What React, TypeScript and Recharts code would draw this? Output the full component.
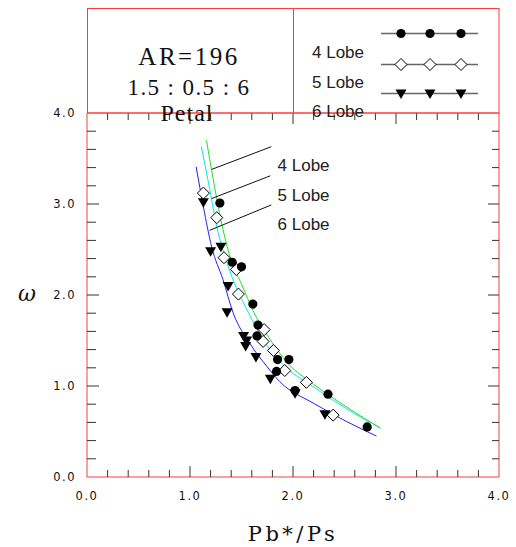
import {
	ComposedChart,
	Line,
	ReferenceDot,
	ReferenceLine,
	Scatter,
	XAxis,
	YAxis,
} from "recharts";

const lobe4X = [1.29, 1.41, 1.5, 1.61, 1.66, 1.65, 1.85, 1.96, 1.84, 2.02, 2.34, 2.72];
const lobe4Y = [3.01, 2.36, 2.31, 1.9, 1.67, 1.55, 1.29, 1.29, 1.16, 0.95, 0.91, 0.55];

const lobe5X = [1.13, 1.26, 1.33, 1.45, 1.47, 1.72, 1.71, 1.81, 1.92, 2.13, 2.39];
const lobe5Y = [3.12, 2.85, 2.41, 2.28, 2.01, 1.62, 1.49, 1.39, 1.17, 1.04, 0.68];

const lobe6X = [1.13, 1.2, 1.3, 1.37, 1.36, 1.52, 1.55, 1.54, 1.64, 1.78, 2.02, 2.31];
const lobe6Y = [3.02, 2.48, 2.53, 2.1, 1.81, 1.55, 1.5, 1.44, 1.32, 1.08, 0.92, 0.69];

// fitted curves
const fit4X = [1.16, 1.21, 1.32, 1.4, 1.5, 1.62, 1.75, 1.95, 2.2, 2.52, 2.85];
const fit4Y = [3.7, 3.37, 2.72, 2.38, 2.12, 1.81, 1.56, 1.25, 1.02, 0.77, 0.535];

const fit5X = [1.11, 1.18, 1.26, 1.36, 1.45, 1.57, 1.71, 1.89, 2.2, 2.52, 2.84];
const fit5Y = [3.63, 3.23, 2.75, 2.35, 2.08, 1.8, 1.51, 1.25, 0.99, 0.75, 0.545];

const fit6X = [1.06, 1.13, 1.21, 1.32, 1.42, 1.58, 1.75, 1.87, 2.2, 2.52, 2.81];
const fit6Y = [3.41, 2.97, 2.53, 2.17, 1.8, 1.47, 1.21, 1.05, 0.81, 0.61, 0.45];

const axisTicks = [
	0, 0.2, 0.4, 0.6, 0.8, 1, 1.2, 1.4, 1.6, 1.8, 2, 2.2, 2.4, 2.6, 2.8, 3, 3.2,
	3.4, 3.6, 3.8, 4,
];

const seriesNames = ["4 Lobe", "5 Lobe", "6 Lobe"];

// leader lines from each curve to its label
const leaderFrom = [
	{ x: 1.21, y: 3.38 },
	{ x: 1.21, y: 3.06 },
	{ x: 1.19, y: 2.71 },
];
const leaderTo = [
	{ x: 1.79, y: 3.63 },
	{ x: 1.78, y: 3.31 },
	{ x: 1.79, y: 2.99 },
];
const leaderLabelAt = [
	{ x: 1.85, y: 3.36 },
	{ x: 1.85, y: 3.03 },
	{ x: 1.85, y: 2.71 },
];

const zip = (xs: number[], ys: number[]) => xs.map((x, i) => ({ x, y: ys[i] }));

const RED = "#ff3c3c";
const TICK = "#333";
const tickFont = { fontFamily: "DejaVu Sans", fontSize: 11.5, letterSpacing: 1.5, fill: "#111" };

const isMajor = (v: number) => Math.abs(v - Math.round(v)) < 1e-6;
const edge = (v: number) => v <= 0 || v >= 4;

const BottomTick = ({ x, y, payload }: any) => {
	const v = payload.value;
	return (
		<g>
			{!edge(v) && <line x1={x} x2={x} y1={y} y2={y - (isMajor(v) ? 11 : 7)} stroke={TICK} />}
			{isMajor(v) && (
				<text x={x} y={y + 23} textAnchor="middle" {...tickFont}>
					{v.toFixed(1)}
				</text>
			)}
		</g>
	);
};

const TopTick = ({ x, y, payload }: any) => {
	const v = payload.value;
	if (edge(v)) return <g />;
	return <line x1={x} x2={x} y1={y} y2={y + (isMajor(v) ? 11 : 7)} stroke={TICK} />;
};

const LeftTick = ({ x, y, payload }: any) => {
	const v = payload.value;
	return (
		<g>
			{!edge(v) && <line x1={x} x2={x + (isMajor(v) ? 12 : 9)} y1={y} y2={y} stroke={TICK} />}
			{isMajor(v) && (
				<text x={x - 11} y={y + 4} textAnchor="end" {...tickFont}>
					{v.toFixed(1)}
				</text>
			)}
		</g>
	);
};

const RightTick = ({ x, y, payload }: any) => {
	const v = payload.value;
	if (edge(v)) return <g />;
	return <line x1={x} x2={x - (isMajor(v) ? 11 : 7)} y1={y} y2={y} stroke={TICK} />;
};

const Dot4 = ({ cx, cy }: any) => <circle cx={cx} cy={cy} r={4.6} fill="#000" />;
const Dot5 = ({ cx, cy }: any) => (
	<path
		d={`M${cx},${cy - 6}L${cx + 6},${cy}L${cx},${cy + 6}L${cx - 6},${cy}Z`}
		fill="#fff"
		stroke="#000"
		strokeWidth={1}
	/>
);
const Dot6 = ({ cx, cy }: any) => (
	<path d={`M${cx - 5.5},${cy - 4}L${cx + 5.5},${cy - 4}L${cx},${cy + 5.5}Z`} fill="#000" />
);

const LegendMark = ({ kind, cx, cy }: { kind: number; cx: number; cy: number }) => {
	if (kind === 0) return <Dot4 cx={cx} cy={cy} />;
	if (kind === 1) return <Dot5 cx={cx} cy={cy} />;
	return <Dot6 cx={cx} cy={cy} />;
};

export default function App() {
	const legendY = [33.5, 64.5, 93.5];
	const legendTextY = [58, 88, 117];
	return (
		<div style={{ position: "absolute", left: 0, top: 0, width: 516, height: 547 }}>
			<ComposedChart
				width={516}
				height={547}
				margin={{ top: 103, right: 7, bottom: 40, left: 27 }}
			>
				<XAxis
					type="number"
					dataKey="x"
					domain={[0, 4]}
					ticks={axisTicks}
					interval={0}
					tickSize={0}
					tickMargin={0}
					tick={<BottomTick />}
					axisLine={{ stroke: RED }}
					height={30}
					allowDataOverflow
					label={({ viewBox }: any) => (
						<text
							x={viewBox.x + viewBox.width / 2}
							y={viewBox.y + 64}
							textAnchor="middle"
							fontFamily="DejaVu Serif"
							fontSize={21}
							letterSpacing={3.5}
							fill="#111"
						>
							Pb*/Ps
						</text>
					)}
				/>
				<XAxis
					xAxisId="top"
					orientation="top"
					type="number"
					dataKey="x"
					domain={[0, 4]}
					ticks={axisTicks}
					interval={0}
					tickSize={0}
					tickMargin={0}
					tick={<TopTick />}
					axisLine={{ stroke: RED }}
					height={10}
					allowDataOverflow
				/>
				<YAxis
					type="number"
					dataKey="y"
					domain={[0, 4]}
					ticks={axisTicks}
					interval={0}
					tickSize={0}
					tickMargin={0}
					tick={<LeftTick />}
					axisLine={{ stroke: RED }}
					width={60}
					allowDataOverflow
					label={({ viewBox }: any) => (
						<text
							x={viewBox.x}
							y={viewBox.y + viewBox.height / 2 + 6}
							textAnchor="middle"
							fontFamily="DejaVu Serif"
							fontStyle="italic"
							fontSize={22}
							fill="#111"
						>
							ω
						</text>
					)}
				/>
				<YAxis
					yAxisId="right"
					orientation="right"
					type="number"
					dataKey="y"
					domain={[0, 4]}
					ticks={axisTicks}
					interval={0}
					tickSize={0}
					tickMargin={0}
					tick={<RightTick />}
					axisLine={{ stroke: RED }}
					width={10}
					allowDataOverflow
				/>
				<Line
					data={zip(fit6X, fit6Y)}
					dataKey="y"
					type="monotone"
					stroke="#1f1fff"
					strokeWidth={1}
					dot={false}
					activeDot={false}
					isAnimationActive={false}
				/>
				<Line
					data={zip(fit5X, fit5Y)}
					dataKey="y"
					type="monotone"
					stroke="#00e8f0"
					strokeWidth={1}
					dot={false}
					activeDot={false}
					isAnimationActive={false}
				/>
				{/* same [0,4] domain on the top/right axes, so this lands exactly where it would on bottom/left */}
				<Line
					xAxisId="top"
					yAxisId="right"
					data={zip(fit4X, fit4Y)}
					dataKey="y"
					type="monotone"
					stroke="#22e022"
					strokeWidth={1}
					dot={false}
					activeDot={false}
					isAnimationActive={false}
				/>
				{leaderFrom.map((p, i) => (
					<ReferenceLine
						key={`ld${i}`}
						segment={[p, leaderTo[i]]}
						stroke="#111"
						strokeWidth={1}
					/>
				))}
				{leaderLabelAt.map((p, i) => (
					<ReferenceDot
						key={`lb${i}`}
						x={p.x}
						y={p.y}
						r={0}
						fill="none"
						stroke="none"
						label={({ viewBox }: any) => (
							<text
								x={viewBox.x}
								y={viewBox.y}
								fontFamily="Liberation Sans"
								fontSize={17}
								fill="#222"
							>
								{seriesNames[i]}
							</text>
						)}
					/>
				))}
				<Scatter
					name="5 Lobe"
					data={zip(lobe5X, lobe5Y)}
					shape={<Dot5 />}
					isAnimationActive={false}
				/>
				<Scatter
					name="6 Lobe"
					data={zip(lobe6X, lobe6Y)}
					shape={<Dot6 />}
					isAnimationActive={false}
				/>
				<Scatter
					name="4 Lobe"
					data={zip(lobe4X, lobe4Y)}
					shape={<Dot4 />}
					isAnimationActive={false}
				/>
			</ComposedChart>
			<svg
				width={516}
				height={130}
				style={{ position: "absolute", left: 0, top: 0, overflow: "visible" }}
			>
				<rect x={87.5} y={8.5} width={411.5} height={104.5} fill="none" stroke={RED} />
				<line x1={293.5} x2={293.5} y1={8.5} y2={113} stroke={RED} />
				<g fontFamily="Liberation Serif" fill="#111" textAnchor="middle">
					<text x={189} y={65} fontSize={25} letterSpacing={2.5}>
						AR=196
					</text>
					<text x={189} y={95} fontSize={23} letterSpacing={1.4}>
						1.5 : 0.5 : 6
					</text>
					<text x={187} y={121} fontSize={24} letterSpacing={1}>
						Petal
					</text>
				</g>
				{seriesNames.map((name, i) => (
					<g key={name}>
						<line x1={381} x2={478} y1={legendY[i]} y2={legendY[i]} stroke="#666" strokeWidth={1.5} />
						{[401, 430, 461].map((cx) => (
							<LegendMark key={cx} kind={i} cx={cx} cy={legendY[i]} />
						))}
						<text x={312} y={legendTextY[i]} fontFamily="Liberation Sans" fontSize={17} fill="#222">
							{name}
						</text>
					</g>
				))}
			</svg>
		</div>
	);
}
